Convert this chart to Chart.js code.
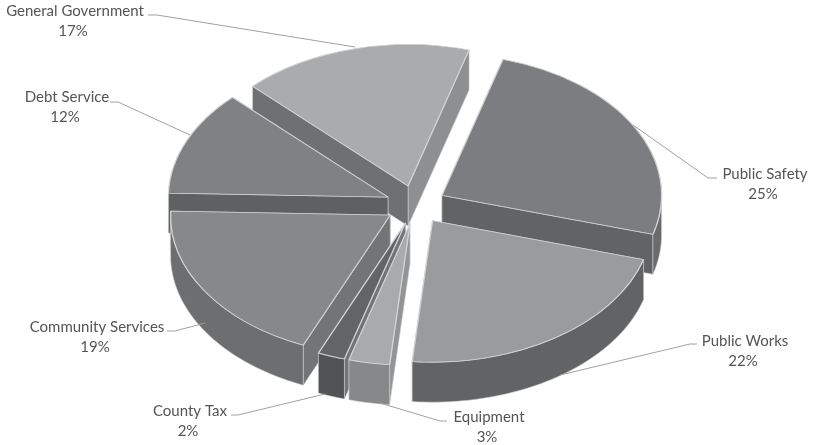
<!DOCTYPE html>
<html>
<head>
<meta charset="utf-8">
<title>Budget by department</title>
<script src="https://cdn.jsdelivr.net/npm/chart.js@4"></script>
<style>
  html, body { margin: 0; padding: 0; background: #fff; }
  canvas { display: block; }
</style>
</head>
<body>
<canvas id="budget_pie" width="815" height="445"></canvas>
<script>
const categories = ["Public Safety", "Public Works", "Equipment", "County Tax", "Community Services", "Debt Service", "General Government"];
const shares = [25, 22, 3, 2, 19, 12, 17];

const topColors = ["#7c7d80", "#9a9b9d", "#a9aaac", "#636466", "#87888a", "#808183", "#a9abad"];
const rimColors = ["#6a6b6d", "#626365", "#87888a", "#525355", "#6d6e70", "#68696b", "#8e8f91"];
const startWallColors = ["#8b8c8e", "#808183", "#939496", "#737476", "#737476", "#5f6062", "#6f7072"];
const endWallColors = ["#626365", "#8a8b8d", "#6a6b6d", "#4e4f51", "#6f7072", "#5f6062", "#8e8f91"];

// label text position and leader polyline for each slice
const labelSpots = [
  { x: 765, y: 174, line: [[633, 125], [708, 178], [717, 178]] },
  { x: 745, y: 341, line: [[560, 375], [690, 344], [697, 344]] },
  { x: 489, y: 417, line: [[380, 403], [440, 421], [447, 421]] },
  { x: 190, y: 411, line: [[325, 394], [238, 415], [231, 415]] },
  { x: 97, y: 327, line: [[205, 323], [175, 331], [167, 331]] },
  { x: 67, y: 97, line: [[190, 135], [118, 102], [110, 102]] },
  { x: 75, y: 11, line: [[355, 47], [157, 15], [148, 15]] },
];

const RADIUS = 200;
const EXPLODE = 27.4;
const DEPTH = 40;
// tilt of the disc: where one radius to the right and one radius down end up on screen
const TILT = { xx: 211, xy: 39, yx: -61, yy: 136 };
const CENTER = { x: 415.6, y: 204.7 };

function tiltMatrix(el) {
  const a = TILT.xx / el.outerRadius, b = TILT.xy / el.outerRadius;
  const c = TILT.yx / el.outerRadius, d = TILT.yy / el.outerRadius;
  return { a, b, c, d, e: CENTER.x - (a * el.x + c * el.y), f: CENTER.y - (b * el.x + d * el.y) };
}

function midAngle(el) {
  return (el.startAngle + el.endAngle) / 2;
}

// screen position of a point on a slice's top face
function onTop(el, angle, r) {
  const m = tiltMatrix(el);
  const mid = midAngle(el);
  const px = el.x + Math.cos(mid) * EXPLODE + Math.cos(angle) * r;
  const py = el.y + Math.sin(mid) * EXPLODE + Math.sin(angle) * r;
  return { x: m.a * px + m.c * py + m.e, y: m.b * px + m.d * py + m.f };
}

function fillWall(ctx, pts, color) {
  ctx.beginPath();
  pts.forEach((p, i) => (i ? ctx.lineTo(p.x, p.y) : ctx.moveTo(p.x, p.y)));
  for (let i = pts.length - 1; i >= 0; i--) ctx.lineTo(pts[i].x, pts[i].y + DEPTH);
  ctx.closePath();
  ctx.fillStyle = color;
  ctx.fill();
  ctx.strokeStyle = "rgba(205,206,208,0.75)";
  ctx.lineWidth = 0.8;
  ctx.stroke();
}

// outer edge of a slice, only the stretch that faces the viewer
function frontRim(el) {
  const pts = [];
  for (let k = 0; k <= 48; k++) {
    pts.push(onTop(el, el.startAngle + ((el.endAngle - el.startAngle) * k) / 48, el.outerRadius));
  }
  return pts.filter((p, k) => (k < 48 && pts[k + 1].x < p.x) || (k > 0 && p.x < pts[k - 1].x));
}

const extrudePlugin = {
  id: "extrude",
  beforeDatasetDraw(chart) {
    const ctx = chart.ctx;
    const arcs = chart.getDatasetMeta(0).data;
    // walls first, furthest slice to nearest
    const order = arcs.map((el, i) => i).sort((p, q) => {
      return onTop(arcs[p], midAngle(arcs[p]), RADIUS * 0.6).y - onTop(arcs[q], midAngle(arcs[q]), RADIUS * 0.6).y;
    });
    order.forEach((i) => {
      const el = arcs[i];
      const r = el.outerRadius;
      const walls = [
        { pts: [onTop(el, el.startAngle, 0), onTop(el, el.startAngle, r)], color: startWallColors[i] },
        { pts: [onTop(el, el.endAngle, 0), onTop(el, el.endAngle, r)], color: endWallColors[i] },
      ];
      // the side cut facing away goes down first so the near one covers it
      walls.sort((u, v) => u.pts[1].y - v.pts[1].y);
      walls.forEach((w) => fillWall(ctx, w.pts, w.color));
      const rim = frontRim(el);
      if (rim.length > 1) fillWall(ctx, rim, rimColors[i]);
    });
    // top faces, pulled out along their middle angle inside the tilted space
    arcs.forEach((el) => {
      const m = tiltMatrix(el);
      ctx.save();
      ctx.transform(m.a, m.b, m.c, m.d, m.e, m.f);
      ctx.translate(Math.cos(midAngle(el)) * EXPLODE, Math.sin(midAngle(el)) * EXPLODE);
      el.draw(ctx, chart.chartArea);
      ctx.restore();
    });
    return false;
  },
  afterDatasetsDraw(chart) {
    const ctx = chart.ctx;
    ctx.strokeStyle = "#a0a0a0";
    ctx.lineWidth = 1;
    ctx.fillStyle = "#555555";
    ctx.font = "15px Lato";
    ctx.textAlign = "center";
    ctx.textBaseline = "middle";
    labelSpots.forEach((spot, i) => {
      ctx.beginPath();
      spot.line.forEach((p, k) => (k ? ctx.lineTo(p[0], p[1]) : ctx.moveTo(p[0], p[1])));
      ctx.stroke();
      ctx.fillText(categories[i], spot.x, spot.y);
      ctx.fillText(shares[i] + "%", spot.x - 2, spot.y + 20);
    });
  },
};

new Chart(document.getElementById("budget_pie").getContext("2d"), {
  type: "pie",
  data: {
    labels: categories,
    datasets: [
      {
        data: shares,
        backgroundColor: topColors,
        borderColor: "#d2d3d5",
        borderWidth: 1.2,
      },
    ],
  },
  options: {
    responsive: false,
    animation: false,
    events: [],
    radius: RADIUS,
    plugins: { legend: { display: false }, tooltip: { enabled: false } },
  },
  plugins: [extrudePlugin],
});
</script>
</body>
</html>
